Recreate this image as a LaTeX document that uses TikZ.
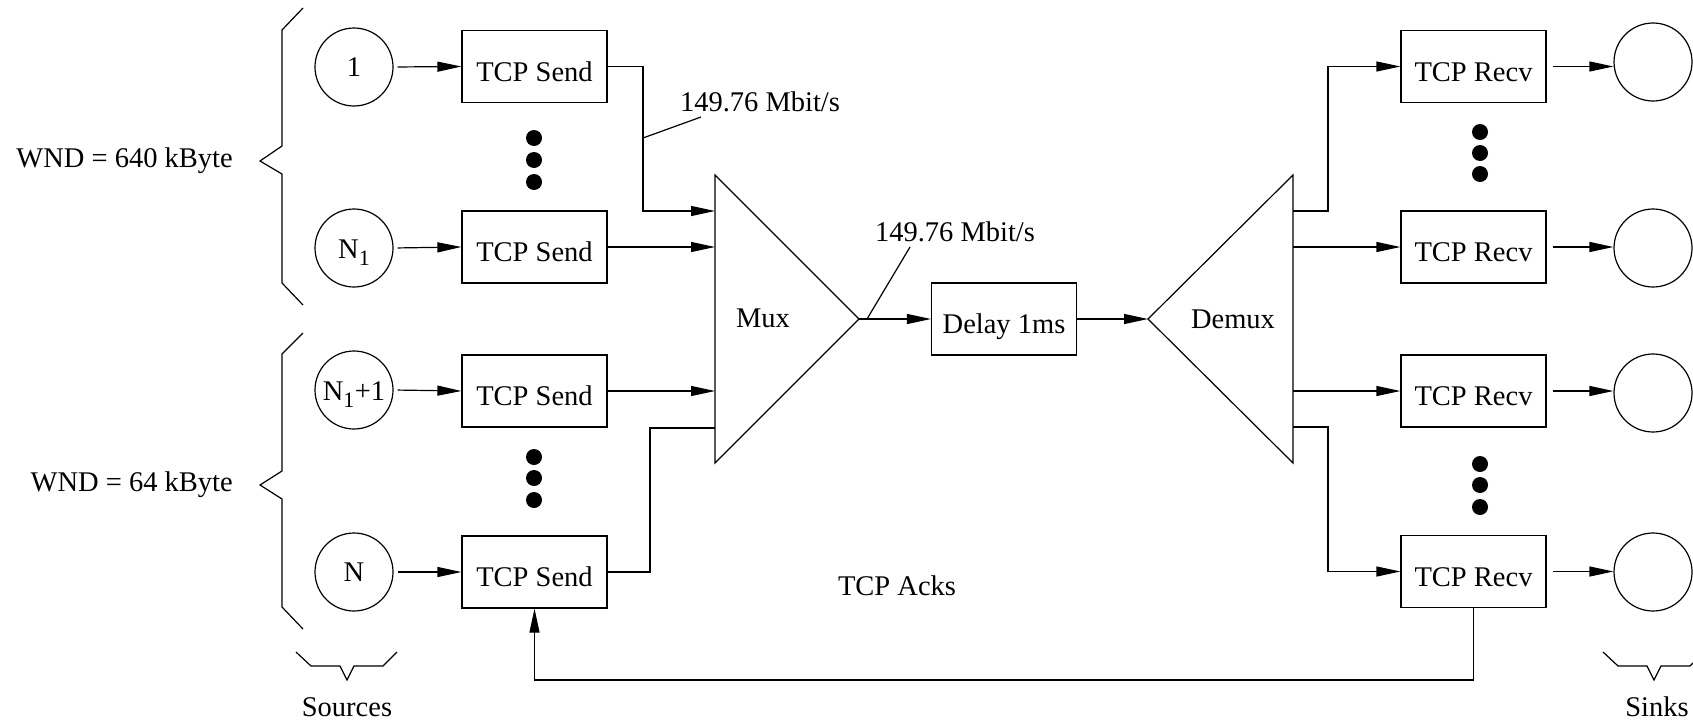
\documentclass[tikz,border=0pt]{standalone}
\usepackage{fontspec}
\setmainfont{Liberation Serif}
\usetikzlibrary{arrows.meta}
\newcommand{\subone}{\raisebox{-7pt}{\fontsize{22}{22}\selectfont 1}}
\begin{document}
\begin{tikzpicture}[x=1pt,y=-1pt,
  every node/.style={font=\fontsize{28.5}{34}\selectfont},
  ln/.style={line width=1.2pt},
  arr/.style={ln,-{Triangle[length=24pt,width=10pt]}},
  blk/.style={draw,line width=1.2pt,rectangle,minimum width=145pt,minimum height=72pt,inner sep=0pt,text height=29pt,text depth=0pt},
  endpt/.style={draw,line width=1.2pt,circle,minimum size=78pt,inner sep=0pt},
  dot/.style={fill=black,circle,minimum size=16pt,inner sep=0pt},
  plain/.style={inner sep=0pt}]
\useasboundingbox (0,0) rectangle (1693,720);

% sources
\node[endpt] (src1) at (354,67) {1};
\node[endpt] (src2) at (354,248) {\raisebox{0pt}[20pt][0pt]{N\subone}};
\node[endpt] (src3) at (354,390) {\raisebox{0pt}[20pt][0pt]{N\subone\kern0.5pt+1}};
\node[endpt] (src4) at (354,572) {N};

% senders
\node[blk] (send1) at (534.5,66.5) {TCP Send};
\node[blk] (send2) at (534.5,247) {TCP Send};
\node[blk] (send3) at (534.5,391) {TCP Send};
\node[blk] (send4) at (534.5,572) {TCP Send};

% dots
\node[dot] (d1) at (534,138) {};
\node[dot] (d2) at (534,160) {};
\node[dot] (d3) at (534,182) {};
\node[dot] (d4) at (534,457) {};
\node[dot] (d5) at (534,478) {};
\node[dot] (d6) at (534,500) {};
\node[dot] (d7) at (1480,132) {};
\node[dot] (d8) at (1480,153) {};
\node[dot] (d9) at (1480,174) {};
\node[dot] (d10) at (1480,464) {};
\node[dot] (d11) at (1480,485) {};
\node[dot] (d12) at (1480,507) {};

% mux
\coordinate (muxtop) at (715,175);
\coordinate (muxbot) at (715,463);
\coordinate (muxtip) at (859,319);
\draw[ln] (muxtop) -- (muxtip) -- (muxbot) -- cycle;
\node[plain] (mux) at (763,318) {Mux};

% delay
\node[blk] (delay) at (1004,319) {Delay 1ms};

% demux
\coordinate (dmtop) at (1293,175);
\coordinate (dmbot) at (1293,463);
\coordinate (dmtip) at (1148,319);
\draw[ln] (dmtop) -- (dmtip) -- (dmbot) -- cycle;
\node[plain] (demux) at (1233,319) {Demux};

% receivers
\node[blk] (recv1) at (1473.5,66.5) {TCP Recv};
\node[blk] (recv2) at (1473.5,247) {TCP Recv};
\node[blk] (recv3) at (1473.5,391) {TCP Recv};
\node[blk] (recv4) at (1473.5,571.5) {TCP Recv};

% sinks
\node[endpt] (snk1) at (1653,62) {};
\node[endpt] (snk2) at (1653,248) {};
\node[endpt] (snk3) at (1653,393) {};
\node[endpt] (snk4) at (1653,572) {};

% source -> sender
\foreach \i in {1,2,3,4}{
  \draw[arr,shorten <=4pt] (src\i.east) -- (send\i.west);
}

% sender -> mux
\coordinate (m1) at (715,211);
\coordinate (m2) at (715,247);
\coordinate (m3) at (715,391);
\coordinate (m4) at (715,428);
\draw[arr] (send1.east) -- (643,66.5) -- (643,211) -- (m1);
\draw[arr] (send2.east) -- (m2);
\draw[arr] (send3.east) -- (m3);
\draw[ln] (send4.east) -- (650,572) -- (650,428) -- (m4);

% mux -> delay -> demux
\draw[arr] (muxtip) -- (delay.west);
\draw[arr] (delay.east) -- (dmtip);

% demux -> receivers
\coordinate (o1) at (1293,211);
\coordinate (o2) at (1293,247);
\coordinate (o3) at (1293,391);
\coordinate (o4) at (1293,427);
\draw[arr] (o1) -- (1328,211) -- (1328,66.5) -- (recv1.west);
\draw[arr] (o2) -- (recv2.west);
\draw[arr] (o3) -- (recv3.west);
\draw[arr] (o4) -- (1328,427) -- (1328,571.5) -- (recv4.west);

% receivers -> sinks
\foreach \i in {1,2,3,4}{
  \draw[arr,shorten <=6pt] (recv\i.east) -- (recv\i.east -| snk\i.west);
}

% acks
\draw[arr] (recv4.south) -- (1473.5,680) -- (534.5,680) -- (send4.south);
\node[plain] (acks) at (897,586) {TCP Acks};

% rate labels
\node[plain] (rate1) at (760,102) {149.76 Mbit/s};
\coordinate (r1a) at (701,117);
\coordinate (r1b) at (643,138);
\draw[ln] (r1a) -- (r1b);
\node[plain] (rate2) at (955,232) {149.76 Mbit/s};
\coordinate (r2a) at (910,247);
\coordinate (r2b) at (867,319);
\draw[ln] (r2a) -- (r2b);

% braces
\draw[ln] (303,8) -- (282,30) -- (282,146) -- (260,161) -- (282,174) -- (282,283) -- (303,305);
\draw[ln] (303,333) -- (282,354) -- (282,471) -- (260,485) -- (282,499) -- (282,607) -- (303,629);
\node[plain,anchor=east] (wnd1) at (233,161) {WND = 640 kByte};
\node[plain,anchor=east] (wnd2) at (233,485) {WND = 64 kByte};

\draw[ln] (296,652) -- (311,666) -- (340,666) -- (347,680) -- (354,666) -- (383,666) -- (397,652);
\node[plain] (sources) at (347,707) {Sources};
\draw[ln] (1603,652) -- (1618,666) -- (1647,666) -- (1654,680) -- (1661,666) -- (1690,666) -- (1693,663);
\node[plain] (sinks) at (1657,707) {Sinks};
\end{tikzpicture}
\end{document}
